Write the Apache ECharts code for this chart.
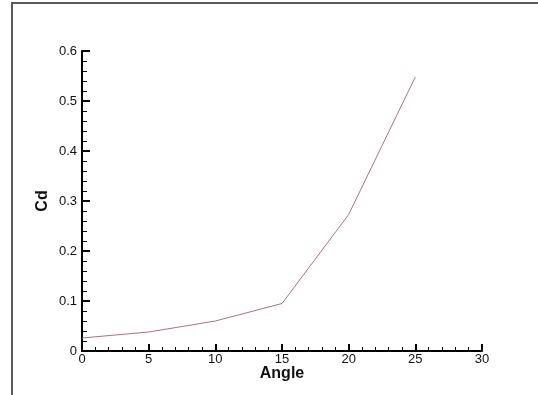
<!DOCTYPE html>
<html>
<head>
<meta charset="utf-8">
<script src="https://cdn.jsdelivr.net/npm/echarts@6/dist/echarts.min.js"></script>
<style>
  html, body { margin: 0; padding: 0; background: #fff; }
  #frame {
    position: absolute; left: 11px; top: 2px; width: 527px; height: 393px;
    border-left: 2px solid #5a5a5a; border-top: 2px solid #5a5a5a;
  }
  #main { position: absolute; left: 0; top: 0; width: 538px; height: 395px; }
</style>
</head>
<body>
<div id="frame"></div>
<div id="main"></div>
<script>
// 攻角 vs 阻力系数
const angles = [0, 5, 10, 15, 20, 25];
const cdValues = [0.026, 0.038, 0.06, 0.095, 0.273, 0.548];
const xTicks = [0, 5, 10, 15, 20, 25, 30];
const yTicks = [0, 0.1, 0.2, 0.3, 0.4, 0.5, 0.6];

const chart = echarts.init(document.getElementById('main'));

const axisFont = { color: '#111', fontSize: 13, fontFamily: 'Liberation Sans, Arial, sans-serif' };
const nameFont = { color: '#111', fontSize: 16, fontWeight: 'bold', fontFamily: 'Liberation Sans, Arial, sans-serif' };

const option = {
  animation: false,
  grid: { left: 82, right: 56, top: 51, bottom: 44 },
  xAxis: {
    type: 'value',
    min: xTicks[0],
    max: xTicks[xTicks.length - 1],
    interval: 5,
    name: 'Angle',
    nameLocation: 'middle',
    nameGap: 15,
    nameMoveOverlap: false,
    nameTextStyle: nameFont,
    axisLine: { lineStyle: { color: '#000', width: 2 } },
    axisTick: { inside: true, length: 7, lineStyle: { color: '#000', width: 2 } },
    minorTick: { show: true, splitNumber: 5, length: 4, lineStyle: { color: '#000', width: 1 } },
    axisLabel: Object.assign({ margin: 2 }, axisFont),
    splitLine: { show: false }
  },
  yAxis: {
    type: 'value',
    min: yTicks[0],
    max: yTicks[yTicks.length - 1],
    interval: 0.1,
    name: 'Cd',
    nameLocation: 'middle',
    nameGap: 31,
    nameMoveOverlap: false,
    nameRotate: 90,
    nameTextStyle: nameFont,
    axisLine: { show: true, lineStyle: { color: '#000', width: 2 } },
    axisTick: { show: true, inside: true, length: 8, lineStyle: { color: '#000', width: 2 } },
    minorTick: { show: true, splitNumber: 5, length: 5, lineStyle: { color: '#000', width: 1 } },
    axisLabel: Object.assign({ margin: 5 }, axisFont),
    splitLine: { show: false }
  },
  series: [{
    type: 'line',
    data: angles.map((a, i) => [a, cdValues[i]]),
    showSymbol: false,
    lineStyle: { color: '#b0707a', width: 1 }
  }]
};

chart.setOption(option);
</script>
</body>
</html>
